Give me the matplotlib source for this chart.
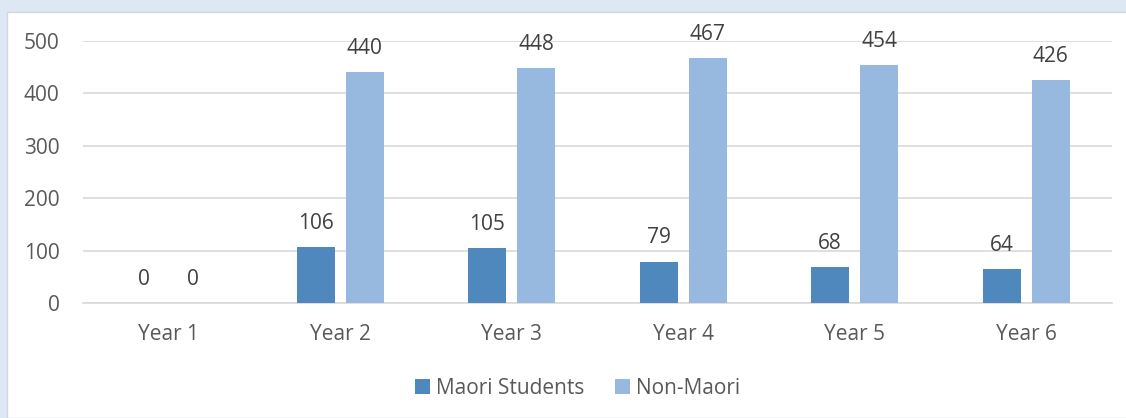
import numpy as np
import matplotlib
matplotlib.use("Agg")
import matplotlib.pyplot as pl
from matplotlib.patches import Rectangle

years = ["Year 1", "Year 2", "Year 3", "Year 4", "Year 5", "Year 6"]
maori = [0, 106, 105, 79, 68, 64]
nonMaori = [0, 440, 448, 467, 454, 426]
yticks = [0, 100, 200, 300, 400, 500]

colMaori = "#4f88bd"
colNon = "#98b9df"
txtCol = "#595959"
fs = 15

pl.rcParams['font.family'] = ['Open Sans', 'DejaVu Sans']

fig = pl.figure(figsize=(11.26, 4.18), dpi=100)
fig.patch.set_facecolor("#dde8f4")
# white chart area with thin border
fig.patches.append(Rectangle((7/1126, 0), 1.0, 1 - 12/418, transform=fig.transFigure,
                             facecolor="white", edgecolor="#cfd8e2", lw=1, zorder=0))

ax = fig.add_axes([83/1126, 1 - 303/418, 1029/1126, 262/418])
ax.patch.set_visible(False)
ax.set_zorder(2)

x = np.arange(len(years))
w = 0.222
off = 0.143
b1 = ax.bar(x - off, maori, w, color=colMaori, label="Maori Students", zorder=3)
b2 = ax.bar(x + off, nonMaori, w, color=colNon, label="Non-Maori", zorder=3)

for bars, vals in ((b1, maori), (b2, nonMaori)):
	for r, v in zip(bars, vals):
		ax.annotate(str(v), (r.get_x() + r.get_width()/2, v), xytext=(0, 17),
		            textcoords="offset points", ha="center", va="center",
		            fontsize=fs, color="#404040")

ax.set_xlim(-0.5, len(years) - 0.5)
ax.set_ylim(0, 500)
ax.set_yticks(yticks)
ax.set_xticks(x)
ax.set_xticklabels(years)
ax.tick_params(axis='both', length=0, labelsize=fs, labelcolor=txtCol)
ax.tick_params(axis='y', pad=17)
ax.tick_params(axis='x', pad=15)
ax.grid(axis='y', color="#d9d9d9", lw=1.2, zorder=0)
for s in ("top", "right", "left"):
	ax.spines[s].set_visible(False)
ax.spines["bottom"].set_color("#d9d9d9")
ax.spines["bottom"].set_linewidth(1.2)

leg = fig.legend(handles=[b1, b2], loc="center", bbox_to_anchor=(0.513, 1 - 388/418),
                 ncol=2, frameon=False, fontsize=fs, handlelength=0.7, handleheight=0.7,
                 handletextpad=0.3, columnspacing=1.5)
for t in leg.get_texts():
	t.set_color(txtCol)

pl.savefig("out.png", dpi=100, facecolor=fig.get_facecolor())
